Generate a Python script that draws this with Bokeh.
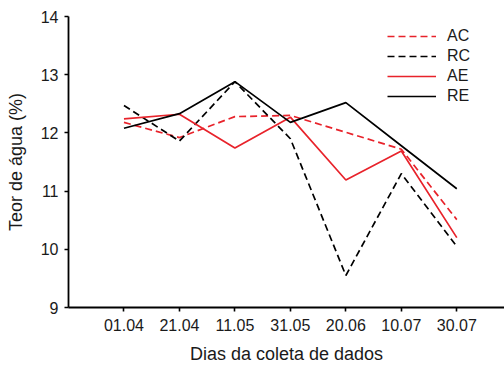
from bokeh.plotting import figure
from bokeh.models import Range1d, FixedTicker, Legend, LegendItem, ColumnDataSource
from bokeh.embed import file_html
from bokeh.resources import INLINE

dates = ["01.04", "21.04", "11.05", "31.05", "20.06", "10.07", "30.07"]
AC = [12.18, 11.92, 12.28, 12.30, 12.01, 11.72, 10.51]
RC = [12.47, 11.86, 12.88, 11.90, 9.55, 11.30, 10.05]
AE = [12.24, 12.32, 11.74, 12.27, 11.19, 11.69, 10.20]
RE = [12.08, 12.33, 12.88, 12.18, 12.52, 11.78, 11.04]
y_ticks = [9, 10, 11, 12, 13, 14]

RED = "#e8232b"
FONT = "Liberation Sans"

xs = list(range(1, len(dates) + 1))

p = figure(width=504, height=367, output_backend="svg", toolbar_location=None,
           x_range=Range1d(0, 7.86), y_range=Range1d(9, 14),
           min_border_left=68, min_border_right=0, min_border_top=16, min_border_bottom=60)
p.outline_line_color = None
p.grid.visible = False
p.background_fill_color = "white"
p.border_fill_color = "white"

series = [("AC", AC, RED, "7 4"), ("RC", RC, "black", "7 4"),
          ("AE", AE, RED, "solid"), ("RE", RE, "black", "solid")]
items = []
for name, vals, col, dash in series:
    src = ColumnDataSource(dict(x=xs, y=vals))
    r = p.line("x", "y", source=src, line_color=col, line_width=1.7, line_dash=dash)
    items.append(LegendItem(label=name, renderers=[r]))

for ax in (p.xaxis[0], p.yaxis[0]):
    ax.axis_line_width = 1.8
    ax.axis_line_color = "black"
    ax.major_tick_line_width = 1.6
    ax.major_tick_out = 4
    ax.major_tick_in = 0
    ax.minor_tick_line_color = None
    ax.major_label_text_font = FONT
    ax.major_label_text_font_size = "16px"
    ax.major_label_text_color = "#1a1a1a"
    ax.axis_label_text_font = FONT
    ax.axis_label_text_font_size = "18px"
    ax.axis_label_text_font_style = "normal"
    ax.axis_label_text_color = "#1a1a1a"

p.xaxis.ticker = FixedTicker(ticks=xs)
p.xaxis.major_label_overrides = {i: d for i, d in zip(xs, dates)}
p.xaxis.major_label_standoff = 7
p.xaxis.axis_label = "Dias da coleta de dados"
p.xaxis.axis_label_standoff = 10

p.yaxis.ticker = FixedTicker(ticks=y_ticks)
p.yaxis.major_label_standoff = 6
p.yaxis.axis_label = "Teor de água (%)"
p.yaxis.axis_label_standoff = 12

legend = Legend(items=items, location=(319, 201))
legend.border_line_color = None
legend.background_fill_alpha = 0
legend.glyph_width = 49
legend.glyph_height = 20
legend.label_height = 20
legend.spacing = 0
legend.padding = 0
legend.margin = 0
legend.label_standoff = 11
legend.label_text_font = FONT
legend.label_text_font_size = "16px"
legend.label_text_color = "#1a1a1a"
legend.label_text_baseline = "middle"
p.add_layout(legend, "center")

open("out.html", "w").write(file_html(p, INLINE))
